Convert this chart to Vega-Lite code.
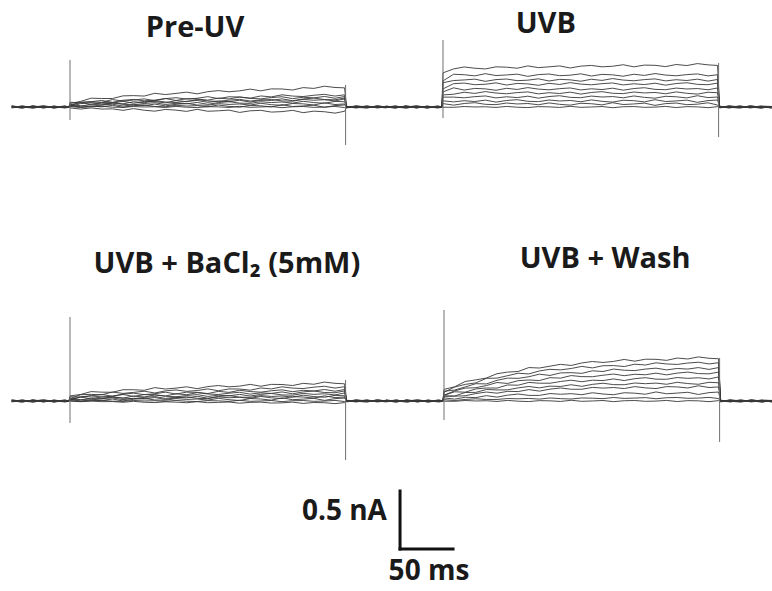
{
  "$schema": "https://vega.github.io/schema/vega-lite/v6.json",
  "background": "white",
  "padding": 0,
  "spacing": 0,
  "config": {"view": {"stroke": null}},
  "datasets": {
    "traces": [
      {"p":"Pre-UV","t":-55,"a":6,"b":-4,"c":8,"d":-8,"e":2,"f":-6,"g":4,"h":10,"i":-2,"j":0},
      {"p":"Pre-UV","t":-45,"a":-6,"b":8,"c":-2,"d":4,"e":-10,"f":6,"g":0,"h":-4,"i":8,"j":-8},
      {"p":"Pre-UV","t":-35,"a":4,"b":-8,"c":6,"d":0,"e":8,"f":-2,"g":-10,"h":6,"i":-4,"j":10},
      {"p":"Pre-UV","t":-25,"a":-8,"b":2,"c":-6,"d":10,"e":-2,"f":8,"g":6,"h":-8,"i":4,"j":-4},
      {"p":"Pre-UV","t":-15,"a":8,"b":-6,"c":0,"d":-4,"e":6,"f":-10,"g":2,"h":4,"i":-8,"j":6},
      {"p":"Pre-UV","t":-5,"a":-4,"b":10,"c":-8,"d":2,"e":-6,"f":4,"g":-2,"h":-6,"i":6,"j":-2},
      {"p":"Pre-UV","t":-1,"a":2,"b":0,"c":-4,"d":-2,"e":4,"f":0,"g":2,"h":-2,"i":0,"j":4},
      {"p":"Pre-UV","t":0,"a":30,"b":10,"c":41,"d":3,"e":18,"f":11,"g":20,"h":14,"i":4,"j":-8},
      {"p":"Pre-UV","t":10,"a":48,"b":42,"c":36,"d":29,"e":38,"f":5,"g":11,"h":-2,"i":-5,"j":-18},
      {"p":"Pre-UV","t":20,"a":76,"b":45,"c":46,"d":38,"e":22,"f":25,"g":6,"h":8,"i":2,"j":-8},
      {"p":"Pre-UV","t":30,"a":73,"b":40,"c":56,"d":27,"e":39,"f":17,"g":17,"h":1,"i":6,"j":-18},
      {"p":"Pre-UV","t":40,"a":73,"b":64,"c":40,"d":34,"e":37,"f":35,"g":24,"h":14,"i":-2,"j":-16},
      {"p":"Pre-UV","t":50,"a":96,"b":51,"c":58,"d":49,"e":27,"f":23,"g":8,"h":-3,"i":-3,"j":-29},
      {"p":"Pre-UV","t":60,"a":98,"b":60,"c":65,"d":32,"e":45,"f":19,"g":19,"h":11,"i":4,"j":-14},
      {"p":"Pre-UV","t":70,"a":94,"b":70,"c":53,"d":48,"e":37,"f":30,"g":12,"h":18,"i":0,"j":-28},
      {"p":"Pre-UV","t":80,"a":118,"b":54,"c":59,"d":46,"e":54,"f":37,"g":25,"h":4,"i":2,"j":-36},
      {"p":"Pre-UV","t":90,"a":107,"b":72,"c":73,"d":36,"e":43,"f":21,"g":9,"h":1,"i":-4,"j":-21},
      {"p":"Pre-UV","t":100,"a":117,"b":80,"c":56,"d":55,"e":38,"f":32,"g":23,"h":15,"i":5,"j":-27},
      {"p":"Pre-UV","t":110,"a":128,"b":68,"c":72,"d":46,"e":49,"f":27,"g":31,"h":8,"i":-2,"j":-38},
      {"p":"Pre-UV","t":120,"a":113,"b":75,"c":69,"d":64,"e":56,"f":39,"g":17,"h":12,"i":-5,"j":-20},
      {"p":"Pre-UV","t":130,"a":132,"b":89,"c":59,"d":52,"e":40,"f":23,"g":15,"h":1,"i":3,"j":-37},
      {"p":"Pre-UV","t":140,"a":141,"b":72,"c":77,"d":48,"e":51,"f":38,"g":29,"h":17,"i":1,"j":-33},
      {"p":"Pre-UV","t":150,"a":131,"b":88,"c":69,"d":59,"e":45,"f":46,"g":22,"h":5,"i":-4,"j":-27},
      {"p":"Pre-UV","t":160,"a":139,"b":86,"c":86,"d":66,"e":58,"f":33,"g":26,"h":-2,"i":6,"j":-47},
      {"p":"Pre-UV","t":170,"a":154,"b":76,"c":74,"d":51,"e":42,"f":31,"g":16,"h":14,"i":-3,"j":-33},
      {"p":"Pre-UV","t":180,"a":139,"b":95,"c":70,"d":62,"e":57,"f":45,"g":32,"h":10,"i":0,"j":-29},
      {"p":"Pre-UV","t":190,"a":156,"b":87,"c":81,"d":56,"e":65,"f":38,"g":20,"h":0,"i":4,"j":-44},
      {"p":"Pre-UV","t":200,"a":155,"b":105,"c":88,"d":70,"e":52,"f":43,"g":14,"h":20,"i":-6,"j":-40},
      {"p":"Pre-UV","t":210,"a":146,"b":94,"c":72,"d":54,"e":50,"f":33,"g":30,"h":4,"i":2,"j":-29},
      {"p":"Pre-UV","t":220,"a":167,"b":90,"c":84,"d":69,"e":65,"f":49,"g":27,"h":9,"i":4,"j":-49},
      {"p":"Pre-UV","t":230,"a":160,"b":101,"c":78,"d":77,"e":58,"f":38,"g":17,"h":16,"i":-3,"j":-36},
      {"p":"Pre-UV","t":240,"a":179,"b":109,"c":91,"d":64,"e":63,"f":32,"g":36,"h":-3,"i":-1,"j":-41},
      {"p":"Pre-UV","t":250,"a":168,"b":94,"c":75,"d":62,"e":52,"f":48,"g":21,"h":12,"i":5,"j":-53},
      {"p":"Pre-UV","t":259,"a":165,"b":105,"c":90,"d":77,"e":69,"f":45,"g":26,"h":17,"i":-5,"j":-37},
      {"p":"Pre-UV","t":261,"a":4,"b":-6,"c":0,"d":6,"e":-4,"f":2,"g":-8,"h":4,"i":0,"j":-2},
      {"p":"Pre-UV","t":270,"a":-6,"b":8,"c":-4,"d":-2,"e":10,"f":-6,"g":4,"h":0,"i":-8,"j":6},
      {"p":"Pre-UV","t":280,"a":8,"b":-2,"c":6,"d":-10,"e":0,"f":4,"g":-6,"h":8,"i":2,"j":-4},
      {"p":"Pre-UV","t":290,"a":-2,"b":4,"c":-8,"d":8,"e":-6,"f":0,"g":10,"h":-4,"i":-2,"j":8},
      {"p":"Pre-UV","t":300,"a":6,"b":-8,"c":2,"d":0,"e":4,"f":-10,"g":-2,"h":6,"i":8,"j":-6},
      {"p":"Pre-UV","t":310,"a":-4,"b":2,"c":-6,"d":4,"e":-8,"f":6,"g":0,"h":-10,"i":4,"j":2},

      {"p":"UVB","t":-55,"a":0,"b":-2,"c":10,"d":4,"e":-6,"f":2,"g":-8,"h":8,"i":-4,"j":6},
      {"p":"UVB","t":-45,"a":-8,"b":8,"c":-4,"d":0,"e":6,"f":-10,"g":4,"h":-2,"i":8,"j":-6},
      {"p":"UVB","t":-35,"a":10,"b":-4,"c":6,"d":-10,"e":-2,"f":8,"g":0,"h":6,"i":-8,"j":4},
      {"p":"UVB","t":-25,"a":-4,"b":4,"c":-8,"d":6,"e":8,"f":-2,"g":10,"h":-6,"i":2,"j":-8},
      {"p":"UVB","t":-15,"a":6,"b":-8,"c":4,"d":2,"e":-10,"f":6,"g":-4,"h":0,"i":-6,"j":8},
      {"p":"UVB","t":-5,"a":-2,"b":6,"c":-6,"d":-2,"e":4,"f":-6,"g":2,"h":-8,"i":10,"j":-4},
      {"p":"UVB","t":-1,"a":4,"b":0,"c":-2,"d":2,"e":0,"f":4,"g":-2,"h":-4,"i":0,"j":2},
      {"p":"UVB","t":0,"a":294,"b":225,"c":209,"d":156,"e":130,"f":104,"g":85,"h":53,"i":29,"j":-2},
      {"p":"UVB","t":10,"a":328,"b":282,"c":228,"d":201,"e":165,"f":110,"g":85,"h":44,"i":16,"j":-3},
      {"p":"UVB","t":20,"a":345,"b":278,"c":233,"d":206,"e":146,"f":127,"g":79,"h":54,"i":30,"j":4},
      {"p":"UVB","t":30,"a":334,"b":268,"c":240,"d":192,"e":160,"f":117,"g":89,"h":47,"i":37,"j":0},
      {"p":"UVB","t":40,"a":328,"b":287,"c":221,"d":196,"e":156,"f":133,"g":95,"h":59,"i":23,"j":2},
      {"p":"UVB","t":50,"a":346,"b":271,"c":236,"d":208,"e":144,"f":120,"g":78,"h":42,"i":20,"j":-4},
      {"p":"UVB","t":60,"a":343,"b":276,"c":241,"d":189,"e":161,"f":114,"g":88,"h":56,"i":34,"j":5},
      {"p":"UVB","t":70,"a":334,"b":283,"c":227,"d":203,"e":151,"f":124,"g":81,"h":63,"i":26,"j":-2},
      {"p":"UVB","t":80,"a":354,"b":264,"c":231,"d":199,"e":167,"f":130,"g":93,"h":49,"i":30,"j":-5},
      {"p":"UVB","t":90,"a":339,"b":279,"c":243,"d":187,"e":154,"f":113,"g":76,"h":46,"i":19,"j":3},
      {"p":"UVB","t":100,"a":346,"b":284,"c":224,"d":204,"e":148,"f":123,"g":90,"h":60,"i":35,"j":1},
      {"p":"UVB","t":110,"a":354,"b":270,"c":238,"d":194,"e":158,"f":116,"g":97,"h":52,"i":23,"j":-4},
      {"p":"UVB","t":120,"a":336,"b":274,"c":234,"d":210,"e":164,"f":128,"g":83,"h":56,"i":16,"j":6},
      {"p":"UVB","t":130,"a":352,"b":286,"c":222,"d":197,"e":147,"f":111,"g":80,"h":45,"i":32,"j":-3},
      {"p":"UVB","t":140,"a":358,"b":267,"c":239,"d":191,"e":157,"f":125,"g":94,"h":61,"i":28,"j":0},
      {"p":"UVB","t":150,"a":346,"b":281,"c":229,"d":201,"e":150,"f":132,"g":86,"h":49,"i":18,"j":4},
      {"p":"UVB","t":160,"a":351,"b":277,"c":245,"d":207,"e":162,"f":118,"g":90,"h":42,"i":37,"j":-6},
      {"p":"UVB","t":170,"a":364,"b":265,"c":232,"d":190,"e":145,"f":115,"g":79,"h":58,"i":21,"j":2},
      {"p":"UVB","t":180,"a":346,"b":282,"c":226,"d":200,"e":159,"f":129,"g":95,"h":54,"i":26,"j":4},
      {"p":"UVB","t":190,"a":361,"b":272,"c":236,"d":193,"e":166,"f":121,"g":83,"h":44,"i":33,"j":-3},
      {"p":"UVB","t":200,"a":359,"b":288,"c":242,"d":205,"e":152,"f":125,"g":76,"h":63,"i":14,"j":-1},
      {"p":"UVB","t":210,"a":348,"b":275,"c":225,"d":188,"e":149,"f":114,"g":92,"h":47,"i":29,"j":5},
      {"p":"UVB","t":220,"a":366,"b":269,"c":235,"d":202,"e":163,"f":130,"g":88,"h":52,"i":34,"j":-5},
      {"p":"UVB","t":230,"a":357,"b":279,"c":228,"d":209,"e":155,"f":118,"g":78,"h":59,"i":20,"j":3},
      {"p":"UVB","t":240,"a":374,"b":285,"c":240,"d":195,"e":159,"f":111,"g":97,"h":40,"i":24,"j":1},
      {"p":"UVB","t":250,"a":363,"b":268,"c":223,"d":192,"e":148,"f":127,"g":81,"h":55,"i":36,"j":-6},
      {"p":"UVB","t":259,"a":358,"b":278,"c":237,"d":206,"e":164,"f":123,"g":86,"h":60,"i":17,"j":3},
      {"p":"UVB","t":261,"a":-2,"b":0,"c":4,"d":-8,"e":2,"f":-4,"g":6,"h":0,"i":-6,"j":4},
      {"p":"UVB","t":270,"a":6,"b":-8,"c":0,"d":4,"e":-6,"f":10,"g":-2,"h":-4,"i":8,"j":-6},
      {"p":"UVB","t":280,"a":-4,"b":2,"c":8,"d":-6,"e":4,"f":0,"g":-10,"h":6,"i":-2,"j":8},
      {"p":"UVB","t":290,"a":8,"b":-2,"c":-4,"d":10,"e":0,"f":-6,"g":8,"h":-8,"i":4,"j":-2},
      {"p":"UVB","t":300,"a":-6,"b":8,"c":6,"d":-2,"e":-10,"f":4,"g":0,"h":2,"i":-8,"j":6},
      {"p":"UVB","t":310,"a":2,"b":4,"c":-10,"d":0,"e":6,"f":-8,"g":4,"h":-6,"i":2,"j":-4},

      {"p":"UVB + BaCl2","t":-55,"a":6,"b":-4,"c":8,"d":-8,"e":2,"f":-6,"g":4,"h":10,"i":-2,"j":0},
      {"p":"UVB + BaCl2","t":-45,"a":-6,"b":8,"c":-2,"d":4,"e":-10,"f":6,"g":0,"h":-4,"i":8,"j":-8},
      {"p":"UVB + BaCl2","t":-35,"a":4,"b":-8,"c":6,"d":0,"e":8,"f":-2,"g":-10,"h":6,"i":-4,"j":10},
      {"p":"UVB + BaCl2","t":-25,"a":-8,"b":2,"c":-6,"d":10,"e":-2,"f":8,"g":6,"h":-8,"i":4,"j":-4},
      {"p":"UVB + BaCl2","t":-15,"a":8,"b":-6,"c":0,"d":-4,"e":6,"f":-10,"g":2,"h":4,"i":-8,"j":6},
      {"p":"UVB + BaCl2","t":-5,"a":-4,"b":10,"c":-8,"d":2,"e":-6,"f":4,"g":-2,"h":-6,"i":6,"j":-2},
      {"p":"UVB + BaCl2","t":-1,"a":2,"b":0,"c":-4,"d":-2,"e":4,"f":0,"g":2,"h":-2,"i":0,"j":4},
      {"p":"UVB + BaCl2","t":0,"a":44,"b":20,"c":36,"d":8,"e":13,"f":13,"g":20,"h":14,"i":4,"j":-2},
      {"p":"UVB + BaCl2","t":10,"a":56,"b":54,"c":34,"d":34,"e":34,"f":7,"g":12,"h":-1,"i":-5,"j":-6},
      {"p":"UVB + BaCl2","t":20,"a":81,"b":57,"c":45,"d":44,"e":19,"f":27,"g":8,"h":10,"i":2,"j":-1},
      {"p":"UVB + BaCl2","t":30,"a":76,"b":53,"c":56,"d":34,"e":35,"f":19,"g":20,"h":4,"i":6,"j":-6},
      {"p":"UVB + BaCl2","t":40,"a":75,"b":77,"c":41,"d":41,"e":34,"f":36,"g":27,"h":17,"i":-2,"j":-5},
      {"p":"UVB + BaCl2","t":50,"a":97,"b":65,"c":59,"d":56,"e":24,"f":25,"g":11,"h":0,"i":-3,"j":-11},
      {"p":"UVB + BaCl2","t":60,"a":97,"b":74,"c":67,"d":39,"e":43,"f":20,"g":23,"h":15,"i":4,"j":-3},
      {"p":"UVB + BaCl2","t":70,"a":92,"b":84,"c":55,"d":55,"e":34,"f":31,"g":17,"h":22,"i":0,"j":-11},
      {"p":"UVB + BaCl2","t":80,"a":115,"b":69,"c":62,"d":53,"e":52,"f":38,"g":30,"h":9,"i":2,"j":-14},
      {"p":"UVB + BaCl2","t":90,"a":103,"b":87,"c":76,"d":43,"e":41,"f":22,"g":13,"h":6,"i":-4,"j":-7},
      {"p":"UVB + BaCl2","t":100,"a":111,"b":95,"c":60,"d":62,"e":36,"f":33,"g":28,"h":21,"i":5,"j":-10},
      {"p":"UVB + BaCl2","t":110,"a":122,"b":83,"c":76,"d":54,"e":47,"f":27,"g":36,"h":13,"i":-2,"j":-15},
      {"p":"UVB + BaCl2","t":120,"a":106,"b":90,"c":74,"d":72,"e":55,"f":40,"g":23,"h":17,"i":-5,"j":-6},
      {"p":"UVB + BaCl2","t":130,"a":124,"b":104,"c":64,"d":60,"e":39,"f":24,"g":20,"h":7,"i":3,"j":-15},
      {"p":"UVB + BaCl2","t":140,"a":133,"b":88,"c":83,"d":56,"e":50,"f":39,"g":35,"h":23,"i":1,"j":-12},
      {"p":"UVB + BaCl2","t":150,"a":122,"b":104,"c":74,"d":67,"e":44,"f":47,"g":28,"h":11,"i":-4,"j":-9},
      {"p":"UVB + BaCl2","t":160,"a":128,"b":103,"c":92,"d":75,"e":57,"f":33,"g":32,"h":4,"i":6,"j":-19},
      {"p":"UVB + BaCl2","t":170,"a":143,"b":93,"c":81,"d":59,"e":42,"f":31,"g":22,"h":21,"i":-3,"j":-12},
      {"p":"UVB + BaCl2","t":180,"a":127,"b":112,"c":76,"d":70,"e":57,"f":46,"g":39,"h":17,"i":0,"j":-10},
      {"p":"UVB + BaCl2","t":190,"a":143,"b":104,"c":88,"d":65,"e":65,"f":39,"g":27,"h":7,"i":4,"j":-18},
      {"p":"UVB + BaCl2","t":200,"a":142,"b":122,"c":96,"d":78,"e":52,"f":43,"g":21,"h":27,"i":-6,"j":-16},
      {"p":"UVB + BaCl2","t":210,"a":133,"b":111,"c":80,"d":62,"e":50,"f":33,"g":37,"h":11,"i":2,"j":-10},
      {"p":"UVB + BaCl2","t":220,"a":152,"b":107,"c":92,"d":78,"e":65,"f":50,"g":34,"h":16,"i":4,"j":-21},
      {"p":"UVB + BaCl2","t":230,"a":144,"b":119,"c":86,"d":86,"e":57,"f":38,"g":25,"h":23,"i":-3,"j":-13},
      {"p":"UVB + BaCl2","t":240,"a":163,"b":127,"c":99,"d":73,"e":62,"f":32,"g":44,"h":5,"i":-1,"j":-15},
      {"p":"UVB + BaCl2","t":250,"a":152,"b":111,"c":84,"d":71,"e":52,"f":48,"g":29,"h":20,"i":5,"j":-23},
      {"p":"UVB + BaCl2","t":259,"a":148,"b":123,"c":99,"d":86,"e":69,"f":45,"g":34,"h":25,"i":-5,"j":-14},
      {"p":"UVB + BaCl2","t":261,"a":4,"b":-6,"c":0,"d":6,"e":-4,"f":2,"g":-8,"h":4,"i":0,"j":-2},
      {"p":"UVB + BaCl2","t":270,"a":-6,"b":8,"c":-4,"d":-2,"e":10,"f":-6,"g":4,"h":0,"i":-8,"j":6},
      {"p":"UVB + BaCl2","t":280,"a":8,"b":-2,"c":6,"d":-10,"e":0,"f":4,"g":-6,"h":8,"i":2,"j":-4},
      {"p":"UVB + BaCl2","t":290,"a":-2,"b":4,"c":-8,"d":8,"e":-6,"f":0,"g":10,"h":-4,"i":-2,"j":8},
      {"p":"UVB + BaCl2","t":300,"a":6,"b":-8,"c":2,"d":0,"e":4,"f":-10,"g":-2,"h":6,"i":8,"j":-6},
      {"p":"UVB + BaCl2","t":310,"a":-4,"b":2,"c":-6,"d":4,"e":-8,"f":6,"g":0,"h":-10,"i":4,"j":2},

      {"p":"UVB + Wash","t":-55,"a":0,"b":-2,"c":10,"d":4,"e":-6,"f":2,"g":-8,"h":8,"i":-4,"j":6},
      {"p":"UVB + Wash","t":-45,"a":-8,"b":8,"c":-4,"d":0,"e":6,"f":-10,"g":4,"h":-2,"i":8,"j":-6},
      {"p":"UVB + Wash","t":-35,"a":10,"b":-4,"c":6,"d":-10,"e":-2,"f":8,"g":0,"h":6,"i":-8,"j":4},
      {"p":"UVB + Wash","t":-25,"a":-4,"b":4,"c":-8,"d":6,"e":8,"f":-2,"g":10,"h":-6,"i":2,"j":-8},
      {"p":"UVB + Wash","t":-15,"a":6,"b":-8,"c":4,"d":2,"e":-10,"f":6,"g":-4,"h":0,"i":-6,"j":8},
      {"p":"UVB + Wash","t":-5,"a":-2,"b":6,"c":-6,"d":-2,"e":4,"f":-6,"g":2,"h":-8,"i":10,"j":-4},
      {"p":"UVB + Wash","t":-1,"a":4,"b":0,"c":-2,"d":2,"e":0,"f":4,"g":-2,"h":-4,"i":0,"j":2},
      {"p":"UVB + Wash","t":0,"a":100,"b":75,"c":84,"d":50,"e":49,"f":41,"g":43,"h":27,"i":11,"j":-2},
      {"p":"UVB + Wash","t":10,"a":122,"b":120,"c":94,"d":87,"e":79,"f":43,"g":41,"h":16,"i":4,"j":-3},
      {"p":"UVB + Wash","t":20,"a":168,"b":143,"c":121,"d":111,"e":76,"f":73,"g":45,"h":32,"i":13,"j":4},
      {"p":"UVB + Wash","t":30,"a":182,"b":156,"c":149,"d":114,"e":104,"f":74,"g":64,"h":29,"i":19,"j":0},
      {"p":"UVB + Wash","t":40,"a":198,"b":195,"c":147,"d":133,"e":112,"f":99,"g":77,"h":46,"i":13,"j":2},
      {"p":"UVB + Wash","t":50,"a":235,"b":197,"c":178,"d":159,"e":111,"f":95,"g":67,"h":33,"i":13,"j":-4},
      {"p":"UVB + Wash","t":60,"a":249,"b":218,"c":197,"d":151,"e":138,"f":96,"g":83,"h":50,"i":21,"j":5},
      {"p":"UVB + Wash","t":70,"a":254,"b":239,"c":195,"d":175,"e":136,"f":113,"g":81,"h":60,"i":19,"j":-2},
      {"p":"UVB + Wash","t":80,"a":288,"b":233,"c":209,"d":181,"e":160,"f":125,"g":98,"h":48,"i":22,"j":-5},
      {"p":"UVB + Wash","t":90,"a":284,"b":259,"c":231,"d":176,"e":153,"f":113,"g":85,"h":48,"i":16,"j":3},
      {"p":"UVB + Wash","t":100,"a":300,"b":273,"c":220,"d":201,"e":153,"f":128,"g":102,"h":64,"i":26,"j":1},
      {"p":"UVB + Wash","t":110,"a":316,"b":268,"c":242,"d":197,"e":168,"f":125,"g":112,"h":58,"i":20,"j":-4},
      {"p":"UVB + Wash","t":120,"a":306,"b":280,"c":244,"d":219,"e":179,"f":140,"g":101,"h":63,"i":17,"j":6},
      {"p":"UVB + Wash","t":130,"a":328,"b":298,"c":238,"d":210,"e":166,"f":126,"g":101,"h":54,"i":26,"j":-3},
      {"p":"UVB + Wash","t":140,"a":340,"b":285,"c":260,"d":209,"e":179,"f":143,"g":117,"h":71,"i":24,"j":0},
      {"p":"UVB + Wash","t":150,"a":332,"b":304,"c":254,"d":222,"e":176,"f":153,"g":111,"h":60,"i":20,"j":4},
      {"p":"UVB + Wash","t":160,"a":341,"b":305,"c":275,"d":232,"e":190,"f":141,"g":116,"h":54,"i":30,"j":-6},
      {"p":"UVB + Wash","t":170,"a":358,"b":297,"c":265,"d":218,"e":176,"f":140,"g":107,"h":71,"i":22,"j":2},
      {"p":"UVB + Wash","t":180,"a":343,"b":317,"c":262,"d":230,"e":192,"f":155,"g":124,"h":67,"i":25,"j":4},
      {"p":"UVB + Wash","t":190,"a":360,"b":310,"c":275,"d":226,"e":201,"f":149,"g":113,"h":58,"i":29,"j":-3},
      {"p":"UVB + Wash","t":200,"a":359,"b":329,"c":283,"d":240,"e":188,"f":154,"g":107,"h":78,"i":19,"j":-1},
      {"p":"UVB + Wash","t":210,"a":350,"b":319,"c":268,"d":225,"e":187,"f":144,"g":124,"h":62,"i":28,"j":5},
      {"p":"UVB + Wash","t":220,"a":370,"b":315,"c":280,"d":240,"e":202,"f":161,"g":121,"h":68,"i":30,"j":-5},
      {"p":"UVB + Wash","t":230,"a":362,"b":327,"c":275,"d":249,"e":195,"f":150,"g":112,"h":75,"i":23,"j":3},
      {"p":"UVB + Wash","t":240,"a":380,"b":334,"c":288,"d":236,"e":200,"f":144,"g":131,"h":56,"i":25,"j":1},
      {"p":"UVB + Wash","t":250,"a":368,"b":319,"c":272,"d":234,"e":190,"f":161,"g":116,"h":72,"i":31,"j":-6},
      {"p":"UVB + Wash","t":259,"a":364,"b":330,"c":288,"d":249,"e":207,"f":157,"g":121,"h":77,"i":21,"j":3},
      {"p":"UVB + Wash","t":261,"a":-2,"b":0,"c":4,"d":-8,"e":2,"f":-4,"g":6,"h":0,"i":-6,"j":4},
      {"p":"UVB + Wash","t":270,"a":6,"b":-8,"c":0,"d":4,"e":-6,"f":10,"g":-2,"h":-4,"i":8,"j":-6},
      {"p":"UVB + Wash","t":280,"a":-4,"b":2,"c":8,"d":-6,"e":4,"f":0,"g":-10,"h":6,"i":-2,"j":8},
      {"p":"UVB + Wash","t":290,"a":8,"b":-2,"c":-4,"d":10,"e":0,"f":-6,"g":8,"h":-8,"i":4,"j":-2},
      {"p":"UVB + Wash","t":300,"a":-6,"b":8,"c":6,"d":-2,"e":-10,"f":4,"g":0,"h":2,"i":-8,"j":6},
      {"p":"UVB + Wash","t":310,"a":2,"b":4,"c":-10,"d":0,"e":6,"f":-8,"g":4,"h":-6,"i":2,"j":-4}
    ],
    "spikes": [
      {"p":"Pre-UV","t":0,"top":405,"bottom":-112},
      {"p":"Pre-UV","t":260,"top":190,"bottom":-328},
      {"p":"UVB","t":0,"top":578,"bottom":-95},
      {"p":"UVB","t":260,"top":379,"bottom":-259},
      {"p":"UVB + BaCl2","t":0,"top":724,"bottom":-190},
      {"p":"UVB + BaCl2","t":260,"top":181,"bottom":-509},
      {"p":"UVB + Wash","t":0,"top":784,"bottom":-164},
      {"p":"UVB + Wash","t":260,"top":371,"bottom":-353}
    ],
    "labels": [
      {"p":"Pre-UV","label":"Pre-UV"},
      {"p":"UVB","label":"UVB"},
      {"p":"UVB + BaCl2","label":"UVB + BaCl₂ (5mM)"},
      {"p":"UVB + Wash","label":"UVB + Wash"},
      {"p":"current","label":"0.5 nA"},
      {"p":"time","label":"50 ms"}
    ],
    "scalebar": [
      {"bar":"current","t0":377.4,"t1":377.4,"i0":362,"i1":862},
      {"bar":"time","t0":377.4,"t1":427.4,"i0":362,"i1":362}
    ]
  },
  "vconcat": [
    {
      "spacing": 0,
      "bounds": "flush",
      "hconcat": [
        {
          "width": 386, "height": 220,
          "layer": [
            {
              "data": {"name": "traces"},
              "transform": [{"filter": "datum.p === 'Pre-UV'"}, {"fold": ["a","b","c","d","e","f","g","h","i","j"], "as": ["trace","pA"]}],
              "mark": {"type": "line", "clip": true, "strokeWidth": 0.9, "color": "#383838"},
              "encoding": {
                "x": {"field": "t", "type": "quantitative", "scale": {"domain": [-66.04, 298.11], "nice": false, "zero": false}, "axis": null},
                "y": {"field": "pA", "type": "quantitative", "scale": {"domain": [-974, 922], "nice": false, "zero": false}, "axis": null},
                "detail": {"field": "trace"}
              }
            },
            {
              "data": {"name": "spikes"},
              "transform": [{"filter": "datum.p === 'Pre-UV'"}],
              "mark": {"type": "rule", "strokeWidth": 1, "color": "#707070"},
              "encoding": {"x": {"field": "t", "type": "quantitative"}, "y": {"field": "top", "type": "quantitative"}, "y2": {"field": "bottom"}}
            },
            {
              "data": {"name": "labels"},
              "transform": [{"filter": "datum.p === 'Pre-UV'"}],
              "mark": {"type": "text", "font": "Open Sans", "fontWeight": "bold", "fontSize": 29, "align": "center", "baseline": "alphabetic", "color": "#1a1a1a"},
              "encoding": {"x": {"datum": 118}, "y": {"datum": 603}, "text": {"field": "label"}}
            }
          ]
        },
        {
          "width": 386, "height": 220,
          "layer": [
            {
              "data": {"name": "traces"},
              "transform": [{"filter": "datum.p === 'UVB'"}, {"fold": ["a","b","c","d","e","f","g","h","i","j"], "as": ["trace","pA"]}],
              "mark": {"type": "line", "clip": true, "strokeWidth": 0.9, "color": "#383838"},
              "encoding": {
                "x": {"field": "t", "type": "quantitative", "scale": {"domain": [-53.77, 310.38], "nice": false, "zero": false}, "axis": null},
                "y": {"field": "pA", "type": "quantitative", "scale": {"domain": [-974, 922], "nice": false, "zero": false}, "axis": null},
                "detail": {"field": "trace"}
              }
            },
            {
              "data": {"name": "spikes"},
              "transform": [{"filter": "datum.p === 'UVB'"}],
              "mark": {"type": "rule", "strokeWidth": 1, "color": "#707070"},
              "encoding": {"x": {"field": "t", "type": "quantitative"}, "y": {"field": "top", "type": "quantitative"}, "y2": {"field": "bottom"}}
            },
            {
              "data": {"name": "labels"},
              "transform": [{"filter": "datum.p === 'UVB'"}],
              "mark": {"type": "text", "font": "Open Sans", "fontWeight": "bold", "fontSize": 29, "align": "center", "baseline": "alphabetic", "color": "#1a1a1a"},
              "encoding": {"x": {"datum": 97}, "y": {"datum": 638}, "text": {"field": "label"}}
            }
          ]
        }
      ]
    },
    {
      "spacing": 0,
      "bounds": "flush",
      "hconcat": [
        {
          "width": 386, "height": 250,
          "layer": [
            {
              "data": {"name": "traces"},
              "transform": [{"filter": "datum.p === 'UVB + BaCl2'"}, {"fold": ["a","b","c","d","e","f","g","h","i","j"], "as": ["trace","pA"]}],
              "mark": {"type": "line", "clip": true, "strokeWidth": 0.9, "color": "#383838"},
              "encoding": {
                "x": {"field": "t", "type": "quantitative", "scale": {"domain": [-66.04, 298.11], "nice": false, "zero": false}, "axis": null},
                "y": {"field": "pA", "type": "quantitative", "scale": {"domain": [-595, 1560], "nice": false, "zero": false}, "axis": null},
                "detail": {"field": "trace"}
              }
            },
            {
              "data": {"name": "spikes"},
              "transform": [{"filter": "datum.p === 'UVB + BaCl2'"}],
              "mark": {"type": "rule", "strokeWidth": 1, "color": "#707070"},
              "encoding": {"x": {"field": "t", "type": "quantitative"}, "y": {"field": "top", "type": "quantitative"}, "y2": {"field": "bottom"}}
            },
            {
              "data": {"name": "labels"},
              "transform": [{"filter": "datum.p === 'UVB + BaCl2'"}],
              "mark": {"type": "text", "font": "Open Sans", "fontWeight": "bold", "fontSize": 29, "align": "center", "baseline": "alphabetic", "color": "#1a1a1a"},
              "encoding": {"x": {"datum": 148}, "y": {"datum": 1103}, "text": {"field": "label"}}
            }
          ]
        },
        {
          "width": 386, "height": 250,
          "layer": [
            {
              "data": {"name": "traces"},
              "transform": [{"filter": "datum.p === 'UVB + Wash'"}, {"fold": ["a","b","c","d","e","f","g","h","i","j"], "as": ["trace","pA"]}],
              "mark": {"type": "line", "clip": true, "strokeWidth": 0.9, "color": "#383838"},
              "encoding": {
                "x": {"field": "t", "type": "quantitative", "scale": {"domain": [-54.72, 309.43], "nice": false, "zero": false}, "axis": null},
                "y": {"field": "pA", "type": "quantitative", "scale": {"domain": [-595, 1560], "nice": false, "zero": false}, "axis": null},
                "detail": {"field": "trace"}
              }
            },
            {
              "data": {"name": "spikes"},
              "transform": [{"filter": "datum.p === 'UVB + Wash'"}],
              "mark": {"type": "rule", "strokeWidth": 1, "color": "#707070"},
              "encoding": {"x": {"field": "t", "type": "quantitative"}, "y": {"field": "top", "type": "quantitative"}, "y2": {"field": "bottom"}}
            },
            {
              "data": {"name": "labels"},
              "transform": [{"filter": "datum.p === 'UVB + Wash'"}],
              "mark": {"type": "text", "font": "Open Sans", "fontWeight": "bold", "fontSize": 29, "align": "center", "baseline": "alphabetic", "color": "#1a1a1a"},
              "encoding": {"x": {"datum": 152}, "y": {"datum": 1147}, "text": {"field": "label"}}
            }
          ]
        }
      ]
    },
    {
      "width": 772, "height": 121,
      "layer": [
        {
          "data": {"name": "scalebar"},
          "mark": {"type": "rule", "strokeWidth": 3, "color": "#111111", "strokeCap": "square"},
          "encoding": {
            "x": {"field": "t0", "type": "quantitative", "scale": {"domain": [0, 728.3], "nice": false, "zero": false}, "axis": null},
            "x2": {"field": "t1"},
            "y": {"field": "i0", "type": "quantitative", "scale": {"domain": [0, 1043], "nice": false, "zero": false}, "axis": null},
            "y2": {"field": "i1"}
          }
        },
        {
          "data": {"name": "labels"},
          "transform": [{"filter": "datum.p === 'current'"}],
          "mark": {"type": "text", "font": "Open Sans", "fontWeight": "bold", "fontSize": 28, "align": "right", "baseline": "middle", "color": "#1a1a1a"},
          "encoding": {"x": {"datum": 365}, "y": {"datum": 681}, "text": {"field": "label"}}
        },
        {
          "data": {"name": "labels"},
          "transform": [{"filter": "datum.p === 'time'"}],
          "mark": {"type": "text", "font": "Open Sans", "fontWeight": "bold", "fontSize": 28, "align": "center", "baseline": "alphabetic", "color": "#1a1a1a"},
          "encoding": {"x": {"datum": 404.7}, "y": {"datum": 95}, "text": {"field": "label"}}
        }
      ]
    }
  ]
}
